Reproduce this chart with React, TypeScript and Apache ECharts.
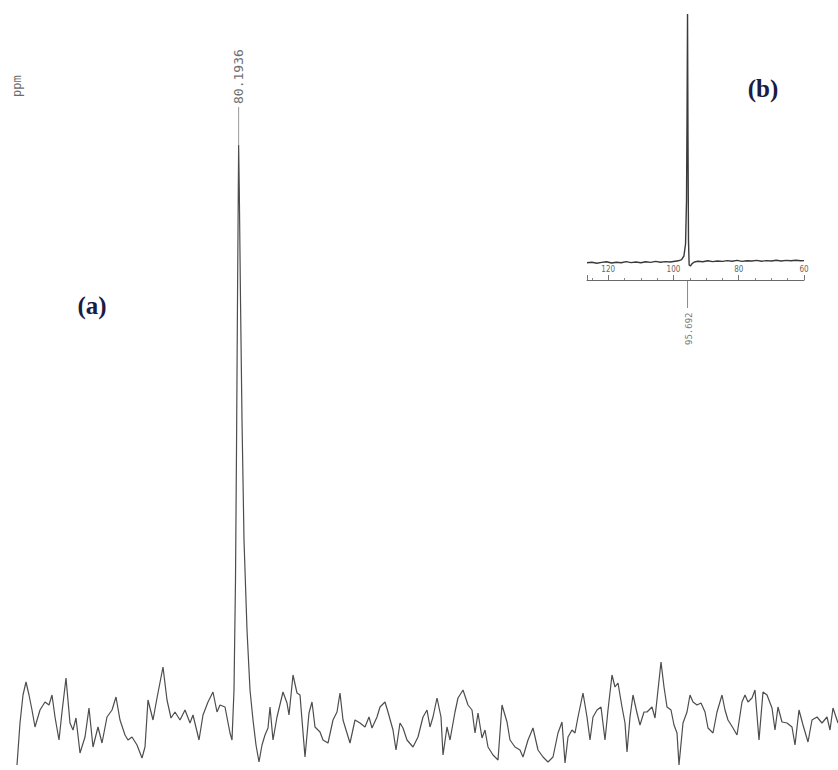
import React, { useEffect, useRef } from "react";
import * as echarts from "echarts";

// Main spectrum (a): chemical shift (ppm) and intensity
const mainShift = [
  82.41, 82.38, 82.35, 82.32, 82.29, 82.26, 82.23, 82.18, 82.13, 82.09, 82.06, 82.03, 81.99, 81.96, 81.92,
  81.88, 81.85, 81.82, 81.78, 81.73, 81.69, 81.65, 81.6, 81.56, 81.51, 81.46, 81.42, 81.38, 81.33, 81.3,
  81.26, 81.21, 81.16, 81.13, 81.1, 81.05, 81.01, 80.95, 80.91, 80.87, 80.83, 80.78, 80.73, 80.68, 80.65,
  80.59, 80.55, 80.5, 80.45, 80.41, 80.38, 80.33, 80.28, 80.26, 80.24, 80.225, 80.215, 80.205, 80.197,
  80.1936, 80.187, 80.175, 80.16, 80.14, 80.11, 80.08, 80.05, 80.02, 79.99, 79.96, 79.93, 79.9, 79.88,
  79.85, 79.81, 79.75, 79.71, 79.69, 79.65, 79.61, 79.58, 79.53, 79.49, 79.46, 79.43, 79.38, 79.35, 79.3,
  79.25, 79.21, 79.18, 79.15, 79.08, 79.03, 78.98, 78.93, 78.89, 78.86, 78.81, 78.78, 78.73, 78.7, 78.65,
  78.62, 78.58, 78.55, 78.51, 78.45, 78.4, 78.35, 78.31, 78.28, 78.25, 78.21, 78.17, 78.15, 78.11, 78.08,
  78.03, 78.0, 77.95, 77.9, 77.86, 77.83, 77.8, 77.76, 77.73, 77.7, 77.65, 77.6, 77.56, 77.51, 77.48,
  77.43, 77.38, 77.35, 77.3, 77.25, 77.2, 77.15, 77.1, 77.05, 77.0, 76.96, 76.93, 76.9, 76.86, 76.83,
  76.8, 76.75, 76.71, 76.68, 76.65, 76.61, 76.57, 76.53, 76.5, 76.46, 76.43, 76.4, 76.36, 76.33, 76.31,
  76.28, 76.25, 76.21, 76.18, 76.14, 76.11, 76.06, 76.03, 75.97, 75.94, 75.91, 75.87, 75.84, 75.81, 75.79,
  75.75, 75.71, 75.68, 75.65, 75.61, 75.57, 75.53, 75.5, 75.45, 75.41, 75.36, 75.33, 75.3, 75.25, 75.21,
  75.16, 75.13, 75.1, 75.06, 75.03, 74.99, 74.95, 74.91, 74.86, 74.83, 74.8, 74.76, 74.71, 74.66, 74.63,
  74.59, 74.55, 74.5, 74.46, 74.41, 74.36, 74.31, 74.28, 74.25, 74.2,
];
const mainIntensity = [
  0.5, 4.7, 7.5, 8.8, 7.5, 6.0, 4.3, 6.0, 6.8, 6.5, 7.5, 5.3, 3.0, 5.8, 9.2,
  4.7, 4.0, 5.2, 1.7, 3.3, 6.2, 2.3, 4.3, 2.7, 5.3, 6.0, 7.3, 5.0, 3.5, 3.0,
  3.3, 2.5, 1.2, 2.3, 7.0, 5.0, 7.2, 10.3, 7.0, 5.2, 5.8, 5.0, 6.0, 4.7, 5.5,
  3.0, 5.5, 6.8, 7.8, 5.8, 6.5, 6.3, 3.7, 3.0, 8.0, 19.0, 32.0, 47.0, 58.0,
  62.5, 58.0, 47.0, 35.0, 23.0, 14.0, 8.0, 5.0, 2.5, 0.8, 2.5, 3.5, 4.2, 6.3,
  3.0, 5.3, 7.8, 6.7, 5.5, 9.5, 7.7, 7.5, 1.3, 5.7, 6.8, 4.3, 3.8, 3.0, 2.7,
  5.0, 5.8, 7.7, 5.0, 2.7, 5.0, 4.7, 4.3, 5.3, 4.2, 5.3, 6.3, 6.8, 5.8, 4.0,
  2.0, 4.7, 4.2, 3.0, 2.3, 3.3, 5.3, 6.0, 4.3, 5.3, 7.2, 5.3, 1.5, 4.3, 3.0,
  5.8, 7.2, 8.0, 6.5, 6.0, 3.7, 5.7, 3.2, 4.0, 2.3, 1.5, 1.0, 6.5, 4.8, 3.0,
  2.3, 2.0, 1.3, 3.0, 4.2, 2.0, 1.3, 0.8, 1.3, 3.7, 4.8, 0.7, 3.3, 4.0, 3.7,
  5.3, 7.7, 5.3, 3.0, 5.3, 6.0, 6.3, 3.0, 6.0, 9.5, 8.3, 8.7, 6.3, 4.7, 1.8,
  5.3, 7.5, 5.7, 4.5, 5.8, 5.8, 6.3, 5.2, 10.8, 8.3, 6.3, 6.0, 4.5, 3.7, 0.5,
  4.7, 5.8, 7.5, 6.8, 6.5, 6.7, 5.8, 4.2, 3.7, 5.8, 7.5, 6.0, 5.0, 4.2, 3.5,
  6.8, 7.5, 6.8, 7.2, 8.0, 3.0, 7.8, 7.5, 6.2, 4.0, 6.3, 4.8, 4.7, 4.3, 2.5,
  6.0, 4.5, 2.8, 5.0, 5.3, 4.7, 5.3, 4.0, 6.2, 4.7,
];
const mainPeakLabel = "80.1936";
const mainPeakShift = 80.1936;

// Inset spectrum (b)
const insetShift = [
  126.5, 125, 123.5, 122, 120.5, 119, 117.5, 116, 114.5, 113, 111.5, 110, 108.5, 107, 105.5, 104, 102.5,
  101, 99.5, 98.5, 97.5, 96.8, 96.3, 96.0, 95.85, 95.692, 95.55, 95.4, 95.2, 94.8, 94.3, 93.6, 92.5, 91,
  89.5, 88, 86.5, 85, 83.5, 82, 80.5, 79, 77.5, 76, 74.5, 73, 71.5, 70, 68.5, 67, 65.5, 64, 62.5, 61, 60,
];
const insetIntensity = [
  8.6, 8.9, 8.4, 8.8, 9.1, 8.5, 8.9, 8.6, 9.2, 8.7, 9.0, 8.6, 9.1, 8.8, 9.3, 8.9, 9.2,
  9.0, 9.4, 9.6, 10.2, 12, 18, 40, 80, 133, 70, 20, 7.5, 7.0, 8.2, 9.0, 9.4, 9.1,
  9.6, 9.2, 9.5, 9.3, 9.7, 9.4, 9.8, 9.3, 9.6, 9.5, 9.8, 9.4, 9.7, 9.5, 9.9, 9.5, 9.8, 9.6, 9.9, 9.6, 9.7,
];
const insetTickLabels = ["120", "100", "80", "60"];
const insetPeakLabel = "95.692";
const insetPeakShift = 95.692;

export default function App() {
  const ref = useRef<HTMLDivElement>(null);

  useEffect(() => {
    if (!ref.current) return;
    const chart = echarts.init(ref.current, null, { renderer: "svg" });
    const mainData = mainShift.map((s, i) => [s, mainIntensity[i]]);
    const insetData = insetShift.map((s, i) => [s, insetIntensity[i]]);

    chart.setOption({
      animation: false,
      backgroundColor: "#ffffff",
      grid: [
        { left: 0, right: 0, top: 0, bottom: 0 },
        { left: 587, right: 34, top: 14, bottom: 490 },
      ],
      xAxis: [
        { type: "value", gridIndex: 0, inverse: true, min: 74.2, max: 82.58, show: false },
        {
          type: "value",
          gridIndex: 1,
          inverse: true,
          min: 60,
          max: 126.5,
          interval: 20,
          axisLine: { show: true, onZero: false, lineStyle: { color: "#6a6a6a", width: 1 } },
          axisTick: { show: true, inside: true, length: 5, lineStyle: { color: "#777" } },
          minorTick: { show: true, splitNumber: 4, length: 2, lineStyle: { color: "#888" } },
          axisLabel: {
            inside: true,
            margin: 7,
            fontSize: 8,
            color: "#666",
            fontFamily: "DejaVu Sans Condensed, DejaVu Sans",
            formatter: (v: number) => insetTickLabels.find((t) => Number(t) === v) ?? "",
          },
          splitLine: { show: false },
          minorSplitLine: { show: false },
        },
      ],
      yAxis: [
        { type: "value", gridIndex: 0, min: 0, max: 77, show: false },
        { type: "value", gridIndex: 1, min: 0, max: 133, show: false },
      ],
      series: [
        {
          type: "line",
          xAxisIndex: 0,
          yAxisIndex: 0,
          data: mainData,
          symbol: "none",
          lineStyle: { color: "#4d4d4d", width: 1.2 },
        },
        {
          type: "line",
          xAxisIndex: 1,
          yAxisIndex: 1,
          data: insetData,
          symbol: "none",
          lineStyle: { color: "#3a3a3a", width: 1.4 },
        },
      ],
    });

    const peakMax = Math.max(...mainIntensity);
    const top = chart.convertToPixel({ xAxisIndex: 0, yAxisIndex: 0 }, [mainPeakShift, peakMax]) as number[];
    const ip = chart.convertToPixel({ xAxisIndex: 1, yAxisIndex: 1 }, [insetPeakShift, 0]) as number[];

    chart.setOption({
      graphic: [
        {
          type: "line",
          shape: { x1: top[0], y1: top[1], x2: top[0], y2: top[1] - 38 },
          style: { stroke: "#9a9a9a", lineWidth: 1 },
        },
        {
          type: "text",
          x: top[0],
          y: top[1] - 41,
          rotation: Math.PI / 2,
          style: {
            text: mainPeakLabel,
            fontSize: 13,
            fontFamily: "DejaVu Sans Mono",
            fill: "#6f6f6f",
            align: "left",
            verticalAlign: "middle",
          },
        },
        {
          type: "line",
          shape: { x1: ip[0], y1: ip[1], x2: ip[0], y2: ip[1] + 28 },
          style: { stroke: "#8a8a8a", lineWidth: 1 },
        },
        {
          type: "text",
          x: ip[0] + 1,
          y: ip[1] + 65,
          rotation: Math.PI / 2,
          style: {
            text: insetPeakLabel,
            fontSize: 9,
            fontFamily: "DejaVu Sans Mono",
            fill: "#7a7a7a",
            align: "left",
            verticalAlign: "middle",
          },
        },
        {
          type: "text",
          x: 17,
          y: 97,
          rotation: Math.PI / 2,
          style: {
            text: "ppm",
            fontSize: 12,
            fontFamily: "DejaVu Sans Mono",
            fill: "#6a6a6a",
            align: "left",
            verticalAlign: "middle",
          },
        },
        {
          type: "text",
          x: 92,
          y: 305,
          style: {
            text: "(a)",
            fontSize: 25,
            fontWeight: "bold",
            fontFamily: "Liberation Serif",
            fill: "#1b1b45",
            align: "center",
            verticalAlign: "middle",
          },
        },
        {
          type: "text",
          x: 763,
          y: 88,
          style: {
            text: "(b)",
            fontSize: 25,
            fontWeight: "bold",
            fontFamily: "Liberation Serif",
            fill: "#1b1b45",
            align: "center",
            verticalAlign: "middle",
          },
        },
      ],
    });

    return () => chart.dispose();
  }, []);

  return (
    <div
      ref={ref}
      style={{ position: "absolute", left: 0, top: 0, width: 838, height: 770, background: "#fff" }}
    />
  );
}
